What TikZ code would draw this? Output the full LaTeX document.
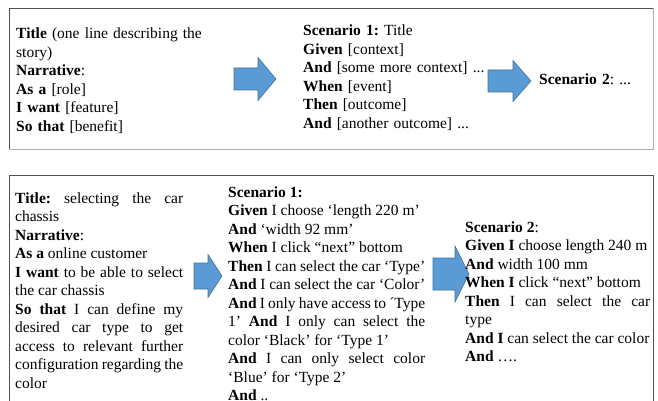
\documentclass[tikz,border=0pt]{standalone}
\usepackage{fontspec}
\setmainfont{Liberation Serif}

\definecolor{arrowfill}{RGB}{91,155,213}
\definecolor{arrowline}{RGB}{65,113,156}
\definecolor{framedark}{RGB}{80,80,80}
\definecolor{framelight}{RGB}{175,175,175}

\begin{document}
\begin{tikzpicture}[x=1pt, y=-1pt,
  frame/.style={draw=framedark, line width=1pt},
  story/.style={anchor=base west, inner sep=0pt, align=left, font=\fontsize{15.5}{18.5}\selectfont\frenchspacing},
  storyj/.style={story, align=justify},
  blockarrow/.style={draw=arrowline, fill=arrowfill, line width=0.6pt, line join=miter},
]
\useasboundingbox (0,0) rectangle (658,401);

% === TEMPLATE ===
\draw[frame, draw=framelight] (9,9) rectangle (653,149);
\draw[frame] (9,149) |- (653,9);

\node[story, text width=215pt] (tmplstory) at (16,39)
  {\textbf{Title} (one line describing the\\story)\\\textbf{Narrative}:\\\textbf{As a} [role]\\\textbf{I want} [feature]\\\textbf{So that} [benefit]};
\node[story, text width=200pt] (tmplscen1) at (303,36)
  {\textbf{Scenario 1:} Title\\\textbf{Given} [context]\\\textbf{And} [some more context] ...\\\textbf{When} [event]\\\textbf{Then} [outcome]\\\textbf{And} [another outcome] ...};
\node[story, text width=110pt] (tmplscen2) at (539,85) {\textbf{Scenario 2}: ...};

% block arrows
\filldraw[blockarrow] (234,68) -- (258,68) -- (258,57.5) -- (276,79) -- (258,100.5) -- (258,90) -- (234,90) -- cycle;
\filldraw[blockarrow] (488,70) -- (513,70) -- (513,60.5) -- (531,81) -- (513,101.5) -- (513,92) -- (488,92) -- cycle;

% === EXAMPLE: CAR CHASSIS ===
\draw[frame] (9,401.5) |- (653,175) -- (653,401.5);

\filldraw[blockarrow] (194,263) -- (208,263) -- (208,254.5) -- (222,276) -- (208,297.5) -- (208,289) -- (194,289) -- cycle;
\filldraw[blockarrow] (433,258) -- (455,258) -- (455,246) -- (469,274) -- (455,302) -- (455,290) -- (433,290) -- cycle;

\node[storyj, text width=168pt] (exstory) at (15,203)
  {\textbf{Title:} selecting the car\linebreak chassis\par
   \textbf{Narrative}:\par
   \textbf{As a} online customer\par
   \textbf{I want} to be able to select\linebreak the car chassis\par
   \textbf{So that} I can define my\linebreak desired car type to get\linebreak access to relevant further\linebreak configuration regarding the\linebreak color};
\node[storyj, text width=197pt] (exscen1) at (228,197)
  {\textbf{Scenario 1:}\par
   \textbf{Given} I choose ‘length 220 m’\par
   \textbf{And} ‘width 92 mm’\par
   \textbf{When} I click “next” bottom\par
   \textbf{Then} I can select the car ‘Type’\par
   \textbf{And} I can select the car ‘Color’\par
   \textbf{And} I only have access to ´Type\linebreak 1’ \textbf{And} I only can select the\linebreak color ‘Black’ for ‘Type 1’\par
   \textbf{And} I can only select color\linebreak ‘Blue’ for ‘Type 2’\par
   \textbf{And} ..};
\node[storyj, text width=185pt] (exscen2) at (465,232)
  {\textbf{Scenario 2}:\par
   \textbf{Given I} choose length 240 m\par
   \textbf{And} width 100 mm\par
   \textbf{When I} click “next” bottom\par
   \textbf{Then} I can select the car\linebreak type\par
   \textbf{And I} can select the car color\par
   \textbf{And} ….};
\end{tikzpicture}
\end{document}
